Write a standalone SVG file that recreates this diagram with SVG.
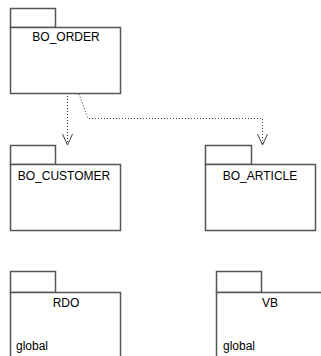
<svg xmlns="http://www.w3.org/2000/svg" width="321" height="356" viewBox="0 0 321 356">
<style>
.pk{fill:#fff;stroke:#555;stroke-width:1.5}
.lbl{font-family:"Liberation Sans",Arial,sans-serif;font-size:12px;fill:#000;text-anchor:middle}
.sub{font-family:"Liberation Sans",Arial,sans-serif;font-size:12px;fill:#000}
.dep{fill:none;stroke:#333;stroke-width:1;stroke-dasharray:1,2}
</style>
<defs>
<marker id="open" markerUnits="userSpaceOnUse" markerWidth="14" markerHeight="14" viewBox="-12 -7 14 14" refX="0" refY="0" orient="auto">
<path d="M-11,-5 L0,0 L-11,5" fill="none" stroke="#444" stroke-width="1" stroke-dasharray="none"/>
</marker>
</defs>
<rect width="321" height="356" fill="#fff"/>
<g id="connectors">
<path class="dep" d="M67.5,93 L67.5,145" marker-end="url(#open)"/>
<path class="dep" d="M79,94 L88,118.5 L262.5,118.5 L262.5,145" marker-end="url(#open)"/>
</g>
<g id="BO_ORDER">
<rect class="pk" x="10.5" y="8.5" width="45" height="19"/>
<rect class="pk" x="10.5" y="27.5" width="110" height="66"/>
<text class="lbl" x="66" y="41">BO_ORDER</text>
</g>
<g id="BO_CUSTOMER">
<rect class="pk" x="10.5" y="145.5" width="45" height="19"/>
<rect class="pk" x="10.5" y="164.5" width="110" height="66"/>
<text class="lbl" x="64" y="180">BO_CUSTOMER</text>
</g>
<g id="BO_ARTICLE">
<rect class="pk" x="205.5" y="145.5" width="46" height="19"/>
<rect class="pk" x="205.5" y="164.5" width="110" height="66"/>
<text class="lbl" x="260" y="180">BO_ARTICLE</text>
</g>
<g id="RDO">
<rect class="pk" x="10.5" y="271.5" width="45" height="21"/>
<rect class="pk" x="10.5" y="292.5" width="110" height="70"/>
<text class="lbl" x="66" y="307">RDO</text>
<text class="sub" x="16" y="350">global</text>
</g>
<g id="VB">
<rect class="pk" x="216.5" y="271.5" width="45" height="21"/>
<rect class="pk" x="216.5" y="292.5" width="110" height="70"/>
<text class="lbl" x="270" y="307">VB</text>
<text class="sub" x="223" y="350">global</text>
</g>
</svg>
